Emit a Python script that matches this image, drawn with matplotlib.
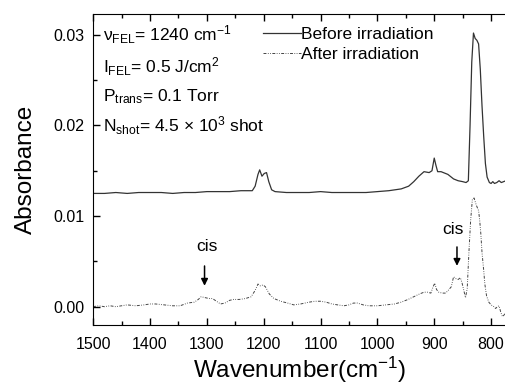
import matplotlib
matplotlib.use("Agg")
import matplotlib.pyplot as plt
from matplotlib.ticker import MultipleLocator

plt.rcParams['font.family'] = ['Liberation Sans', 'DejaVu Sans']
plt.rcParams['mathtext.fontset'] = 'custom'
plt.rcParams['mathtext.rm'] = 'Liberation Sans'
plt.rcParams['mathtext.it'] = 'Liberation Sans'

# FTIR spectra (wavenumber in cm^-1, absorbance)
BEFORE_WN = [1500, 1480, 1460, 1440, 1420, 1400, 1380, 1360, 1340, 1320, 1300,
             1280, 1260, 1240, 1228, 1220, 1215, 1210, 1207, 1203, 1199, 1195,
             1191, 1186, 1180, 1160, 1140, 1120, 1100, 1080, 1060, 1040, 1020,
             1000, 980, 958, 945, 936, 927, 918, 909, 904, 900, 897, 894, 888,
             876, 866, 858, 850, 844, 840, 837, 834, 831, 828, 825, 822, 819,
             816, 813, 810, 807, 803, 800, 797, 794, 790, 786, 782, 778, 774, 772]
BEFORE_ABS = [0.0125, 0.0125, 0.0126, 0.0125, 0.0126, 0.0126, 0.0126, 0.0125, 0.0126, 0.0126, 0.0127,
              0.0127, 0.0127, 0.0128, 0.0128, 0.0128, 0.0133, 0.0146, 0.0151, 0.0144, 0.0147, 0.0148,
              0.0138, 0.0129, 0.0127, 0.0126, 0.0126, 0.0126, 0.0127, 0.0126, 0.0126, 0.0126, 0.0126,
              0.0127, 0.0128, 0.0130, 0.0133, 0.0138, 0.0144, 0.0149, 0.0148, 0.0150, 0.0164, 0.0156, 0.0149, 0.0149,
              0.0146, 0.0141, 0.0139, 0.0138, 0.0137, 0.0139, 0.0200, 0.0270, 0.0302, 0.0296, 0.0294, 0.0290, 0.0262,
              0.0222, 0.0188, 0.0158, 0.0143, 0.0137, 0.0136, 0.0138, 0.0136, 0.0137, 0.0139, 0.0137, 0.0138, 0.0139, 0.0138]

AFTER_WN = [1500, 1490, 1480, 1470, 1460, 1450, 1440, 1425, 1410, 1400, 1390, 1375,
            1360, 1347, 1334, 1322, 1315, 1310, 1303, 1296, 1290, 1283, 1276, 1268,
            1260, 1253, 1243, 1232, 1222, 1215, 1210, 1206, 1201, 1197, 1190, 1182,
            1170, 1158, 1147, 1135, 1120, 1110, 1100, 1090, 1080, 1070, 1059, 1050,
            1042, 1035, 1025, 1015, 1000, 985, 970, 958, 946, 936, 926, 918, 912,
            906, 902, 899, 896, 892, 886, 880, 874, 870, 866, 862, 858, 854, 851,
            848, 845, 842, 839, 836, 833, 830, 826, 822, 820, 818, 816, 813, 811,
            808, 804, 800, 795, 792, 789, 786, 783, 780, 777, 774, 772]
AFTER_ABS = [0.0000, 0.0001, 0.0000, 0.0001, 0.0000, 0.0001, 0.0002, 0.0001, 0.0002, 0.0003, 0.0003, 0.0002,
             0.0001, 0.0001, 0.0004, 0.0005, 0.0008, 0.0011, 0.0010, 0.0009, 0.0009, 0.0006, 0.0003, 0.0004,
             0.0007, 0.0008, 0.0008, 0.0009, 0.0011, 0.0018, 0.0025, 0.0023, 0.0024, 0.0022, 0.0014, 0.0009,
             0.0006, 0.0004, 0.0002, 0.0003, 0.0005, 0.0006, 0.0006, 0.0005, 0.0003, 0.0002, 0.0001, 0.0002,
             0.0004, 0.0004, 0.0002, 0.0001, 0.0001, 0.0002, 0.0003, 0.0005, 0.0008, 0.0011, 0.0014, 0.0016, 0.0016,
             0.0015, 0.0022, 0.0026, 0.0019, 0.0016, 0.0015, 0.0015, 0.0019, 0.0022, 0.0033, 0.0031, 0.0030, 0.0032, 0.0026,
             0.0018, 0.0010, 0.0020, 0.0060, 0.0095, 0.0118, 0.0120, 0.0112, 0.0106, 0.0095, 0.0080, 0.0060, 0.0040, 0.0025,
             0.0012, 0.0005, 0.0002, 0.0000, -0.0002, 0.0000, 0.0001, -0.0006, -0.0011, -0.0009, -0.0006, -0.0005]

PARAM_LINES = [r'$\mathregular{\nu_{FEL}}$= 1240 cm$\mathregular{^{-1}}$',
               r'$\mathregular{I_{FEL}}$= 0.5 J/cm$\mathregular{^{2}}$',
               r'$\mathregular{P_{trans}}$= 0.1 Torr',
               r'$\mathregular{N_{shot}}$= 4.5 $\mathregular{\times}$ 10$\mathregular{^{3}}$ shot']
PARAM_Y = [0.0300, 0.0265, 0.0232, 0.0200]

fig = plt.figure(figsize=(5.06, 3.89), dpi=100)
ax = fig.add_axes([0.184, 0.165, 0.818, 0.799])

ax.plot(BEFORE_WN, BEFORE_ABS, '-', color='#333333', lw=0.9, label='Before irradiation')
ax.plot(AFTER_WN, AFTER_ABS, color='#444444', lw=0.7,
        linestyle=(0, (3, 1.5, 0.8, 1.5, 0.8, 1.5)), label='After irradiation')

ax.set_xlim(1500, 772)
ax.set_ylim(-0.002, 0.0323)
ax.xaxis.set_major_locator(MultipleLocator(100))
ax.xaxis.set_minor_locator(MultipleLocator(50))
ax.yaxis.set_major_locator(MultipleLocator(0.01))
ax.yaxis.set_minor_locator(MultipleLocator(0.005))
ax.yaxis.set_major_formatter(plt.FormatStrFormatter('%.2f'))
ax.tick_params(which='both', direction='in', top=True, right=False, labelsize=11.5, width=1)
ax.tick_params(axis='x', pad=9)
ax.tick_params(axis='y', pad=6)
ax.tick_params(which='major', length=5)
ax.tick_params(which='minor', length=3)
ax.spines['right'].set_visible(False)

ax.set_xlabel(r'Wavenumber(cm$\mathregular{^{-1}}$)', fontsize=17.5, labelpad=2)
ax.set_ylabel('Absorbance', fontsize=17.5, labelpad=12)

for txt, yv in zip(PARAM_LINES, PARAM_Y):
    ax.text(1482, yv, txt, fontsize=12.5, va='center', ha='left')

ax.legend(loc='upper left', bbox_to_anchor=(0.41, 0.96), frameon=False, fontsize=12.5,
          handlelength=2.2, handletextpad=0.0, labelspacing=0.3, borderpad=0, borderaxespad=0)

# cis markers
ax.text(1299, 0.0066, 'cis', fontsize=12.5, ha='center', va='center')
ax.annotate('', xy=(1304, 0.0020), xytext=(1304, 0.0048),
            arrowprops=dict(arrowstyle='-|>', color='black', lw=1.1, mutation_scale=10))
ax.text(867, 0.0085, 'cis', fontsize=12.5, ha='center', va='center')
ax.annotate('', xy=(860, 0.0042), xytext=(860, 0.0069),
            arrowprops=dict(arrowstyle='-|>', color='black', lw=1.1, mutation_scale=10))

fig.savefig('out.png', dpi=100)
